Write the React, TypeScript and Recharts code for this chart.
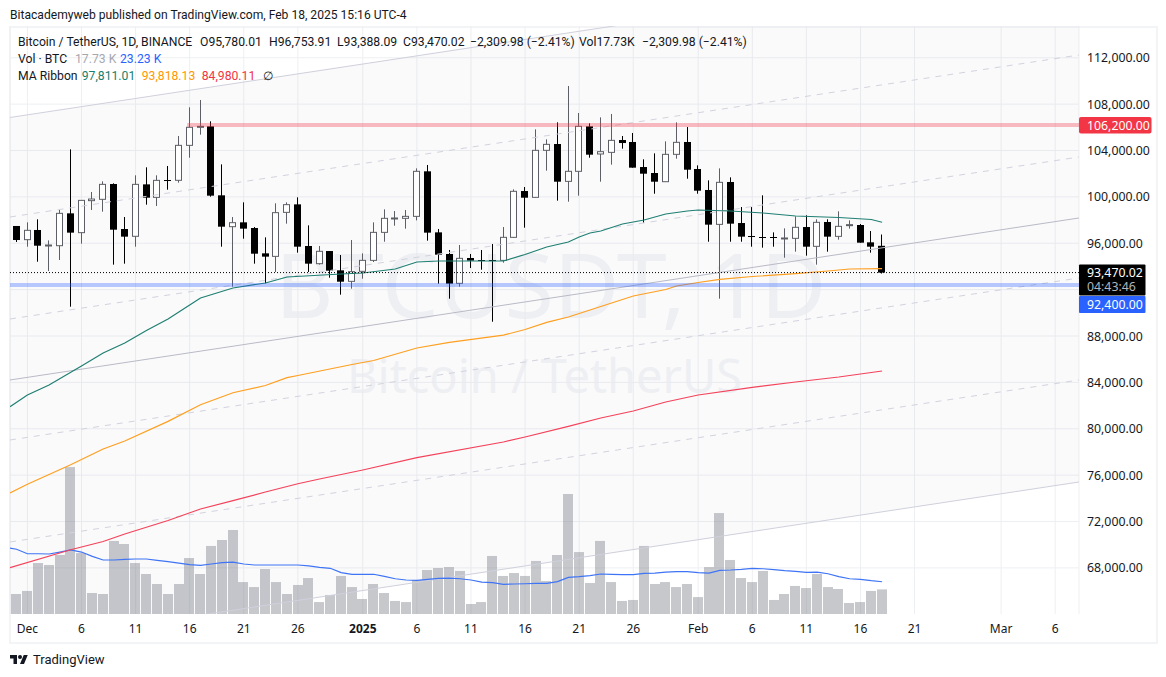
import React from "react";
import { ComposedChart, Area, Bar, Line, XAxis, YAxis, CartesianGrid, ReferenceLine } from "recharts";

const firstDay = -1;
const opens = [97490,96310,97145,95790,95790,98580,96915,99675,99790,101110,97230,96600,101080,99960,101455,101430,104445,106030,106085,100135,97430,97805,97315,95130,94870,98665,99355,95765,94240,95330,93665,92715,93580,94525,96940,98120,98150,98320,102205,96940,95075,92545,94730,94555,94555,94525,96510,100505,99960,104015,104560,101340,102205,106085,103700,103840,104905,104735,102575,102060,101310,103670,104735,102405,100595,97630,101285,97745,96625,96540,96540,96395,96425,97400,95735,97835,96595,97545,97575,96080,95780.01];
const highs = [97490,97805,98065,96250,98925,104100,99700,100420,101340,101170,98265,101860,102550,101860,102665,105250,107725,108355,106515,102805,98265,99530,97400,96510,99445,99530,99960,97545,95765,95330,94985,96280,95130,97805,98925,98780,98870,102460,102750,97230,95420,95850,95075,95420,95935,97400,100650,100850,105825,104965,106430,109565,107235,106345,106860,107150,105250,105510,103240,103755,104790,106430,106025,102720,101425,102460,101685,99125,99125,100135,96940,97285,98320,98410,98065,98065,98755,97975,97660,97055,96753.91];
const lows = [96110,95705,94410,93605,94555,90530,95965,98870,98725,94155,94240,95705,99330,99215,100620,101225,103380,105365,100020,95705,92255,96395,94240,92545,93520,97690,95190,93520,94155,93030,91565,92085,92945,94385,96135,97515,97260,97975,96225,92515,91220,92255,93865,93720,89235,94325,96480,97345,99930,102260,99675,99585,100105,103380,101310,102780,104160,102520,97775,100275,101310,103295,101570,100275,96135,91220,96135,96135,95705,95620,95705,94755,95275,94930,94155,95275,96310,97260,96050,95190,93388.09];
const closes = [96280,97115,95790,95850,98580,96915,99700,99815,101080,97170,96570,101080,99930,101425,101400,104445,106000,106085,100105,97430,97775,97260,95100,94845,98640,99330,95705,94240,95305,93635,92685,93550,94525,96940,98150,98180,98320,102205,96915,95015,92515,94700,94500,94500,94500,96510,100480,99930,104015,104530,101310,102205,106085,103640,103900,104875,104645,102520,102000,101310,103670,104705,102345,100535,97605,101255,97690,96570,96570,96480,96480,96455,97375,95705,97805,96570,97460,97605,96050,95705,93470.02];
const volumes = [14.4,16.6,36.7,35.3,42.5,105.8,43.9,15.1,14.4,52.6,50.4,36.7,28.8,21.6,14.4,21.6,40.3,28.8,49.0,53.3,60.5,23.0,19.4,32.4,23.0,14.4,20.9,25.9,8.6,13.7,27.4,19.4,10.8,21.6,15.1,9.4,8.6,24.5,31.7,33.1,33.8,31.0,7.2,8.6,41.8,27.4,29.5,27.4,38.2,23.8,42.5,86.4,44.6,22.3,52.6,23.0,9.4,10.1,49.0,21.6,23.0,19.4,21.6,12.2,33.8,72.7,38.9,25.9,23.0,31.0,10.1,14.4,20.2,18.7,28.8,19.4,18.0,7.9,8.6,16.6,17.73];
const volumeMa = [46.6,43.4,43.4,43.2,44.6,46.1,44.6,41.5,38.9,38.9,39.4,39.6,39.6,38.6,37.7,36.7,35.5,35.0,36.0,37.0,37.4,36.0,35.3,35.3,35.3,35.3,35.3,34.6,33.6,32.9,29.8,28.6,28.6,28.6,27.1,25.4,24.5,24.2,25.0,25.7,25.9,25.4,24.5,23.0,22.6,21.4,21.6,21.8,22.1,22.1,23.3,26.4,26.9,27.6,28.8,28.6,28.3,28.3,29.3,29.5,30.2,30.5,30.5,29.8,29.5,31.4,31.7,32.2,32.9,32.6,31.9,31.2,30.7,30.0,30.2,29.0,26.9,25.4,25.0,24.0,23.23];

const edgeDays = [-1.608, 97.2];
const volumeMaEdge = 47.5;
const greenDays = [-1.608,0,2,5,7,9,11,13,15,16,19,22,24,29,31,34,36,38,44,46,48,50,51,52,53,55,57,59,61,62,65,68,71,75,78,79];
const greenMa = [81903,82912,83775,85414,86535,87397,88476,89467,90675,91278,92141,92572,93090,93349,93435,93780,94384,94470,94470,95031,95677,96109,96540,96885,97057,97661,98006,98524,98782,98869,98782,98610,98351,98222,98050,97811.01];
const orangeDays = [-1.608,0,4,7,9,13,16,19,22,24,25,30,32,36,39,44,46,48,50,53,56,59,60,62,64,67,71,74,76,79];
const orangeMa = [74460,75210,76892,78255,78945,80635,82067,83110,83732,84405,84595,85543,85888,86966,87449,88070,88561,89182,89640,90545,91451,92011,92313,92615,92891,93133,93375,93607,93780,93818.13];
const redDays = [-1.608,4,7,9,13,16,19,22,25,27,31,36,44,46,50,53,56,59,62,67,71,75,79];
const redMa = [68018,69562,70277,70924,72088,73080,73796,74546,75254,75667,76443,77504,78858,79290,80204,80929,81532,82309,82913,83568,84034,84465,84980.11];

const channelTop = [106847, 120819];
const channelBottom = [61436, 75409];
const channelMiddle = [84206, 98179];
const channelDashed = [[98265, 112237],[89467, 103440],[79031, 93004],[70234, 84206]];

const resistance = 106200;
const resistanceStartDay = 14.77;
const support = 92400;
const lastPrice = 93470.02;
const countdown = "04:43:46";

const priceTicks = [112000,108000,104000,100000,96000,88000,84000,80000,76000,72000,68000];
const priceGrid = [112000,108000,104000,100000,96000,92000,88000,84000,80000,76000,72000,68000];
const dayTicks = [0,5,10,15,20,25,31,36,41,46,51,56,62,67,72,77,82,90,95];
const dayLabels = ["Dec","6","11","16","21","26","2025","6","11","16","21","26","Feb","6","11","16","21","Mar","6"];

const FONT = "'Noto Sans', sans-serif";
const FONT2 = "Roboto, sans-serif";
const TEXT = "#131722";
const AXIS_SIZE = 12.3;

const rows: any[] = [];
const atDay = (days: number[], vals: number[], d: number) => {
  const k = days.indexOf(d);
  return k >= 0 ? vals[k] : undefined;
};
rows.push({
  day: edgeDays[0], channel: [channelBottom[0], channelTop[0]], volMa: volumeMaEdge,
  green: greenMa[0], orange: orangeMa[0], red: redMa[0],
});
opens.forEach((o, i) => {
  const day = firstDay + i;
  rows.push({
    day, open: o, high: highs[i], low: lows[i], close: closes[i],
    range: [lows[i], highs[i]], volume: volumes[i], volMa: volumeMa[i],
    green: atDay(greenDays, greenMa, day), orange: atDay(orangeDays, orangeMa, day), red: atDay(redDays, redMa, day),
  });
});
rows.push({ day: edgeDays[1], channel: [channelBottom[1], channelTop[1]] });

const Candle = (props: any) => {
  const { x, y, width, height, payload } = props;
  if (!payload || payload.open === undefined) return <g />;
  const perPrice = height / (payload.high - payload.low);
  const top = Math.max(payload.open, payload.close);
  const bottom = Math.min(payload.open, payload.close);
  const bodyY = y + (payload.high - top) * perPrice;
  const bodyH = Math.max((top - bottom) * perPrice, 1);
  const left = Math.floor(x + width / 2);
  const up = payload.close >= payload.open;
  const ink = up ? "#5d5f66" : "#000000";
  return (
    <g>
      <rect x={left} y={y} width={1} height={height} fill={ink} />
      {up ? (
        <rect x={left - 2.5} y={bodyY} width={6} height={bodyH} fill="#ffffff" stroke={ink} strokeWidth={1} />
      ) : (
        <rect x={left - 3} y={bodyY} width={7} height={bodyH} fill="#000000" />
      )}
    </g>
  );
};

const VolumeBar = (props: any) => {
  const { x, y, width, height, payload } = props;
  if (!payload || payload.volume === undefined) return <g />;
  const barWidth = 10;
  return <rect x={Math.round(x + width / 2 - barWidth / 2)} y={y} width={barWidth} height={height} fill="#787b86" fillOpacity={0.42} />;
};

const priceFmt = (v: number) => v.toLocaleString("en-US", { minimumFractionDigits: 2, maximumFractionDigits: 2 });

const PriceTick = (props: any) => {
  const { x, y, payload } = props;
  const v = payload.value;
  const plotRight = x - 8;
  if (v === resistance) {
    return (
      <g>
        <rect x={plotRight} y={y - 8} width={72.5} height={16.5} rx={2} fill="#f23645" />
        <text x={x} y={y} dominantBaseline="central" fontFamily={FONT} fontSize={AXIS_SIZE} fill="#fff">{priceFmt(v)}</text>
      </g>
    );
  }
  if (v === lastPrice) {
    return (
      <g>
        <rect x={plotRight} y={y - 8} width={66.5} height={31} rx={1} fill="#000" />
        <text x={x} y={y + 4.2} fontFamily={FONT} fontSize={AXIS_SIZE} fill="#fff">
          <tspan x={x}>{priceFmt(v)}</tspan>
          <tspan x={x} dy={14.4} fill="#b2b5be">{countdown}</tspan>
        </text>
      </g>
    );
  }
  if (v === support) {
    return (
      <g>
        <rect x={plotRight} y={y + 11} width={66.5} height={17} rx={1} fill="#2962ff" />
        <text x={x} y={y + 19.5} dominantBaseline="central" fontFamily={FONT} fontSize={AXIS_SIZE} fill="#fff">{priceFmt(v)}</text>
      </g>
    );
  }
  return <text x={x} y={y} dominantBaseline="central" fontFamily={FONT} fontSize={AXIS_SIZE} fill={TEXT}>{priceFmt(v)}</text>;
};

const DayTick = (props: any) => {
  const { x, y, payload } = props;
  const label = dayLabels[dayTicks.indexOf(payload.value)];
  return (
    <text x={x} y={y} textAnchor="middle" dominantBaseline="central" fontFamily={FONT} fontSize={12}
      fontWeight={label === "2025" ? 700 : 400} fill={TEXT}>{label}</text>
  );
};

const rowStyle: React.CSSProperties = { position: "absolute", left: 18, whiteSpace: "pre", fontFamily: FONT2, fontSize: 12.2, lineHeight: "16px", color: TEXT };
const Item = ({ x, c, children }: any) => <span style={{ position: "absolute", left: x, top: 0, color: c || TEXT }}>{children}</span>;

export default function App() {
  return (
    <div style={{ position: "absolute", left: 0, top: 0, width: 1166, height: 677, background: "#fff", overflow: "hidden" }}>
      <div style={{ position: "absolute", left: 10, top: 7, fontFamily: FONT2, fontSize: 12.1, lineHeight: "16px", color: TEXT, whiteSpace: "pre" }}>
        Bitacademyweb published on TradingView.com, Feb 18, 2025 15:16 UTC-4
      </div>
      <div style={{ position: "absolute", left: 9, top: 26, width: 1145, height: 614, border: "2px solid #f3f4f6" }} />
      <div style={{ position: "absolute", left: 275, top: 228, fontFamily: FONT, fontSize: 90, lineHeight: "110px", color: "#f3f4f7", whiteSpace: "pre" }}>BTCUSDT, 1D</div>
      <div style={{ position: "absolute", left: 347, top: 345, fontFamily: FONT, fontSize: 47, lineHeight: "60px", color: "#f3f4f7", whiteSpace: "pre" }}>Bitcoin / TetherUS</div>

      <div style={{ position: "absolute", left: 0, top: 0 }}>
        <ComposedChart width={1166} height={677} data={rows} margin={{ top: 26, right: 0, bottom: 0, left: 10 }}>
          <XAxis xAxisId="main" dataKey="day" type="number" domain={[edgeDays[0], edgeDays[1]]} allowDataOverflow
            ticks={dayTicks} interval={0} axisLine={false} tickLine={false} tickSize={0} tickMargin={14} height={63} tick={<DayTick />} />
          <XAxis xAxisId="vol" dataKey="day" type="number" domain={[edgeDays[0], edgeDays[1]]} allowDataOverflow hide />
          <YAxis yAxisId="price" orientation="right" type="number" domain={[64023, 114739]} allowDataOverflow width={87}
            ticks={[...priceTicks, resistance, lastPrice, support]} interval={0} axisLine={false} tickLine={false} tickSize={0} tickMargin={8} tick={<PriceTick />} />
          <YAxis yAxisId="volume" type="number" domain={[0, 423.4]} allowDataOverflow hide />
          <Area xAxisId="main" yAxisId="price" dataKey="channel" stroke="none" fill="#787b86" fillOpacity={0.035} connectNulls isAnimationActive={false} />
          <CartesianGrid xAxisId="main" yAxisId="price" stroke="#eeeff2" strokeWidth={1} horizontalValues={priceGrid} />
          <ReferenceLine xAxisId="main" yAxisId="price" ifOverflow="hidden" stroke="#cfd0dc" strokeWidth={1}
            segment={[{ x: edgeDays[0], y: channelTop[0] }, { x: edgeDays[1], y: channelTop[1] }]} />
          <ReferenceLine xAxisId="main" yAxisId="price" ifOverflow="hidden" stroke="#cfd0dc" strokeWidth={1}
            segment={[{ x: edgeDays[0], y: channelBottom[0] }, { x: edgeDays[1], y: channelBottom[1] }]} />
          <ReferenceLine xAxisId="main" yAxisId="price" ifOverflow="hidden" stroke="#b9bac6" strokeWidth={1}
            segment={[{ x: edgeDays[0], y: channelMiddle[0] }, { x: edgeDays[1], y: channelMiddle[1] }]} />
          {channelDashed.map((d, k) => (
            <ReferenceLine key={k} xAxisId="main" yAxisId="price" ifOverflow="hidden" stroke="#d2d3de" strokeWidth={1} strokeDasharray="6 6"
              segment={[{ x: edgeDays[0], y: d[0] }, { x: edgeDays[1], y: d[1] }]} />
          ))}
          <Bar xAxisId="vol" yAxisId="volume" dataKey="volume" barSize={10} shape={<VolumeBar />} isAnimationActive={false} />
          <Line xAxisId="main" yAxisId="volume" dataKey="volMa" stroke="#3f74f6" strokeWidth={1.2} dot={false} connectNulls isAnimationActive={false} />
          <Line xAxisId="main" yAxisId="price" dataKey="green" stroke="#1f7f72" strokeWidth={1.2} dot={false} connectNulls isAnimationActive={false} />
          <Line xAxisId="main" yAxisId="price" dataKey="orange" stroke="#ff9f1f" strokeWidth={1.2} dot={false} connectNulls isAnimationActive={false} />
          <Line xAxisId="main" yAxisId="price" dataKey="red" stroke="#f4425a" strokeWidth={1.2} dot={false} connectNulls isAnimationActive={false} />
          <Bar xAxisId="main" yAxisId="price" dataKey="range" barSize={7} shape={<Candle />} isAnimationActive={false} />
          <ReferenceLine xAxisId="main" yAxisId="price" ifOverflow="hidden" stroke="#f23645" strokeOpacity={0.33} strokeWidth={4}
            segment={[{ x: resistanceStartDay, y: resistance }, { x: edgeDays[1], y: resistance }]} />
          <ReferenceLine xAxisId="main" yAxisId="price" y={support} stroke="#2962ff" strokeOpacity={0.33} strokeWidth={4} />
          <ReferenceLine xAxisId="main" yAxisId="price" y={lastPrice} stroke="#000000" strokeWidth={1} strokeDasharray="1 2" />
        </ComposedChart>
      </div>

      <div style={{ ...rowStyle, top: 34 }}>
        <Item x={0}>Bitcoin / TetherUS, 1D, BINANCE</Item>
        <Item x={182}>O95,780.01</Item>
        <Item x={251}>H96,753.91</Item>
        <Item x={319}>L93,388.09</Item>
        <Item x={385}>C93,470.02</Item>
        <Item x={452}>−2,309.98 (−2.41%)</Item>
        <Item x={561}>Vol17.73K</Item>
        <Item x={624}>−2,309.98 (−2.41%)</Item>
      </div>
      <div style={{ ...rowStyle, top: 50.5 }}>
        <Item x={0}>Vol · BTC</Item>
        <Item x={57} c="#a6a8b0">17.73 K</Item>
        <Item x={102} c="#2962ff">23.23 K</Item>
      </div>
      <div style={{ ...rowStyle, top: 67.7 }}>
        <Item x={0}>MA Ribbon</Item>
        <Item x={63.7} c="#1a7f6e">97,811.01</Item>
        <Item x={123.7} c="#ff9800">93,818.13</Item>
        <Item x={183.7} c="#f23645">84,980.11</Item>
        <Item x={244.7}>∅</Item>
      </div>

      <svg style={{ position: "absolute", left: 10, top: 653 }} width={18} height={14} viewBox="0 0 36 28">
        <path d="M14 22H7V11H0V4h14v18zM28 22h-8l7.5-18h8L28 22z" fill="#131722" />
        <circle cx="20" cy="8" r="4" fill="#131722" />
      </svg>
      <div style={{ position: "absolute", left: 33, top: 651, fontFamily: FONT2, fontSize: 13, lineHeight: "18px", color: TEXT }}>TradingView</div>
    </div>
  );
}
